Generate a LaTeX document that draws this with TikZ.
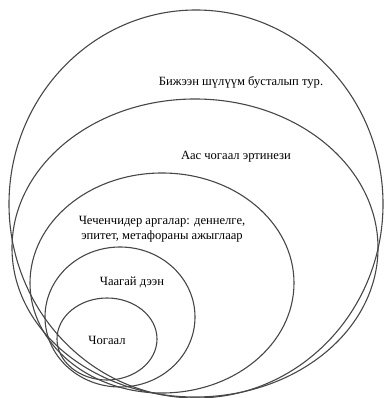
\documentclass[tikz,border=0pt]{standalone}
\usepackage{fontspec}
\setmainfont{Liberation Serif}
\usetikzlibrary{shapes.geometric}

\begin{document}
\begin{tikzpicture}[
  x=1pt, y=-1pt, line width=1.1pt,
  ring/.style={ellipse, draw=black!72, inner sep=0pt},
  label/.style={font=\fontsize{12.6}{15}\selectfont, align=center, inner sep=0pt},
]
\useasboundingbox (0,0) rectangle (386,398);
\node[ring, minimum width=374pt, minimum height=388pt] (R1) at (196,204) {};
\node[ring, minimum width=366pt, minimum height=298pt] (R2) at (195,248) {};
\node[ring, minimum width=264pt, minimum height=220pt] (R3) at (162,283) {};
\node[ring, minimum width=150pt, minimum height=140pt] (R4) at (120,317) {};
\node[ring, minimum width=100pt, minimum height=82pt] (R5) at (107,339) {};
\node[label] (T1) at (241,82) {Бижээн шүлүүм бусталып тур.};
\node[label] (T2) at (236,157) {Аас чогаал эртинези};
\node[label] (T3) at (162,229) {Чеченчидер аргалар: деннелге,\\эпитет, метафораны ажыглаар};
\node[label] (T4) at (132,282) {Чаагай дээн};
\node[label] (T5) at (107,340) {Чогаал};
\end{tikzpicture}
\end{document}
